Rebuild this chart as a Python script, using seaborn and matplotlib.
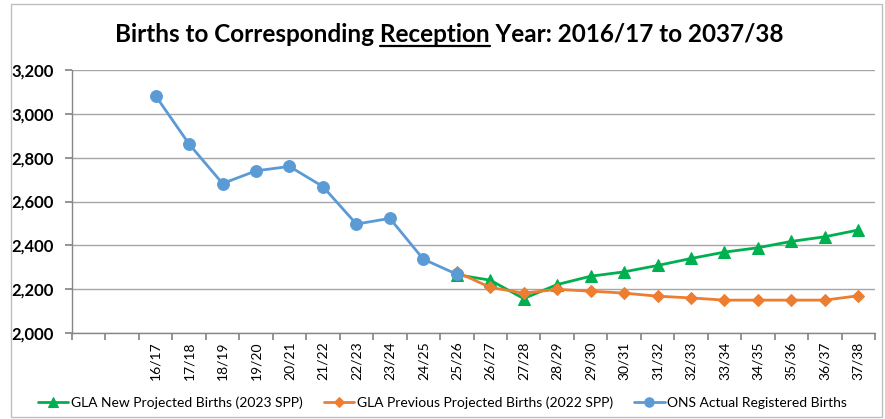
import numpy as np
import pandas as pd
import matplotlib
matplotlib.use('Agg')
import matplotlib.pyplot as plt
import seaborn as sns

# --- DATA ---
years = ['16/17', '17/18', '18/19', '19/20', '20/21', '21/22', '22/23', '23/24',
         '24/25', '25/26', '26/27', '27/28', '28/29', '29/30', '30/31', '31/32',
         '32/33', '33/34', '34/35', '35/36', '36/37', '37/38']
n_blank = 2  # empty categories before 16/17 on the chart's axis

ons_years = years[:10]
ons_births = [3082, 2862, 2682, 2740, 2760, 2668, 2497, 2523, 2337, 2268]

proj_years = years[9:]
gla_new = [2266, 2241, 2157, 2221, 2259, 2279, 2308, 2340, 2369, 2389, 2418, 2439, 2470]
gla_prev = [2278, 2208, 2182, 2199, 2191, 2182, 2168, 2160, 2150, 2150, 2150, 2150, 2170]

labels = ['GLA New Projected Births (2023 SPP)',
          'GLA Previous Projected Births (2022 SPP)',
          'ONS Actual Registered Births']

# --- STYLE ---
sns.set_theme(style='white')
plt.rcParams['font.family'] = ['Lato', 'DejaVu Sans']
plt.rcParams['text.color'] = 'black'
plt.rcParams['xtick.color'] = 'black'
plt.rcParams['ytick.color'] = 'black'

pos = {y: i + n_blank for i, y in enumerate(years)}

fig = plt.figure(figsize=(8.85, 4.19), dpi=100)
ax = fig.add_axes([72 / 885, 1 - 333 / 419, (875 - 72) / 885, (333 - 70) / 419])

green, orange, blue = '#00B050', '#ED7D31', '#5B9BD5'

sns.lineplot(x=[pos[y] for y in proj_years], y=gla_new, ax=ax, color=green,
             marker='^', markersize=9, markeredgecolor=green, linewidth=2,
             label=labels[0])
sns.lineplot(x=[pos[y] for y in proj_years], y=gla_prev, ax=ax, color=orange,
             marker='D', markersize=6.5, markeredgecolor=orange, linewidth=2,
             label=labels[1])
sns.lineplot(x=[pos[y] for y in ons_years], y=ons_births, ax=ax, color=blue,
             marker='o', markersize=8.5, markeredgecolor=blue, linewidth=2,
             label=labels[2])

ax.set_ylim(2000, 3200)
ax.set_yticks(np.arange(2000, 3201, 200))
ax.set_yticklabels([f'{v:,}' for v in range(2000, 3201, 200)],
                   fontweight='bold', fontsize=12)
ax.yaxis.grid(True, color='#A6A6A6', linewidth=1)
ax.set_axisbelow(True)

n_cat = len(years) + n_blank
ax.set_xlim(-0.5, n_cat - 0.5)
ax.set_xticks(np.arange(-0.5, n_cat, 1))
ax.set_xticklabels([])
ax.set_xticks([pos[y] for y in years], minor=True)
ax.set_xticklabels(years, minor=True, rotation=90, fontsize=10)
ax.tick_params(axis='x', which='major', length=5, color='#868686', direction='out', bottom=True)
ax.tick_params(axis='x', which='minor', length=0, pad=6)
ax.tick_params(axis='y', length=5, color='#868686', direction='out', left=True, pad=8)

for side in ['top', 'right']:
    ax.spines[side].set_visible(False)
for side in ['left', 'bottom']:
    ax.spines[side].set_color('#868686')
    ax.spines[side].set_linewidth(1)

ax.set_xlabel('')
ax.set_ylabel('')

handles, lbls = ax.get_legend_handles_labels()
ax.get_legend().remove()
fig.legend(handles, lbls, loc='center', bbox_to_anchor=(0.5, 1 - 403 / 419), ncol=3,
           frameon=False, fontsize=10, handlelength=2.2, columnspacing=1.5,
           handletextpad=0.2, markerscale=0.8)

# title with underlined "Reception"
title_y = 1 - 42 / 419
tkw = dict(fontsize=17.5, fontweight='bold', va='baseline')
title = 'Births to Corresponding Reception Year: 2016/17 to 2037/38'
fig.canvas.draw()
r = fig.canvas.get_renderer()
t = fig.text(0.508, title_y, title, ha='center', **tkw)
bb = t.get_window_extent(r)
pre = fig.text(0, 0, 'Births to Corresponding ', **tkw)
w_pre = pre.get_window_extent(r).width
pre.remove()
word = fig.text(0, 0, 'Reception', **tkw)
w_word = word.get_window_extent(r).width
word.remove()
x0 = bb.x0 + w_pre
y_line = title_y * fig.bbox.height - 4
fig.add_artist(plt.Line2D([x0 / fig.bbox.width, (x0 + w_word) / fig.bbox.width],
                          [y_line / fig.bbox.height] * 2, color='black', linewidth=1.6,
                          transform=fig.transFigure))

fig.patches.append(plt.Rectangle((0.012, 0.005), 0.985, 0.985, transform=fig.transFigure,
                                 fill=False, edgecolor='#BFBFBF', linewidth=1))

fig.savefig('out.png', dpi=100)
